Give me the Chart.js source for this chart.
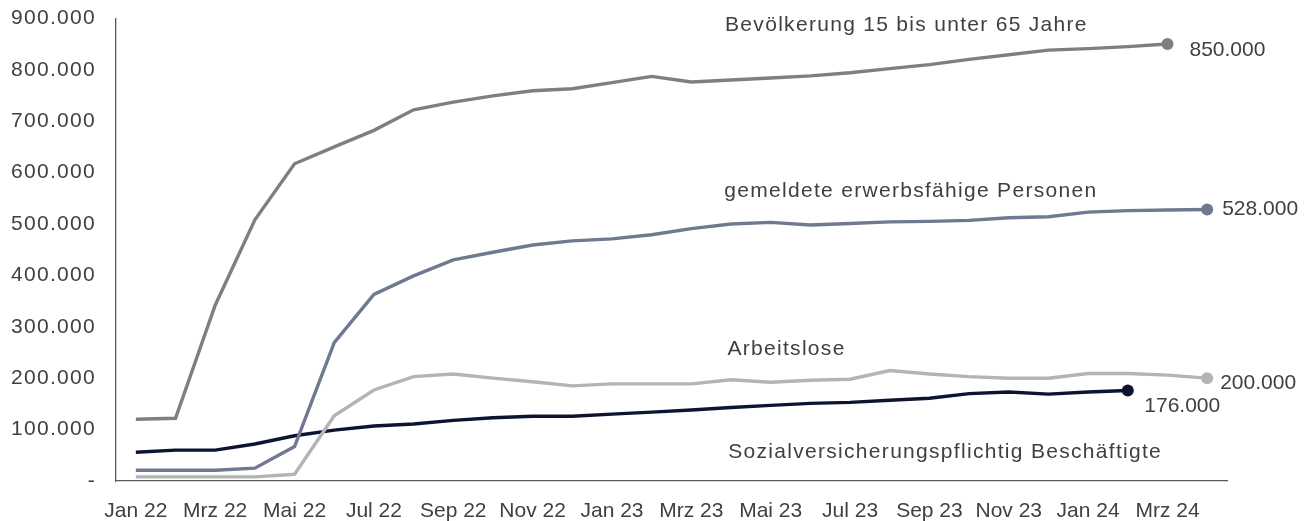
<!DOCTYPE html>
<html>
<head>
<meta charset="utf-8">
<script src="https://cdn.jsdelivr.net/npm/chart.js@4.4.1/dist/chart.umd.min.js"></script>
<style>
  html, body { margin: 0; padding: 0; background: #ffffff; }
  #wrap { width: 1312px; height: 521px; }
</style>
</head>
<body>
<div id="wrap"><canvas id="c" width="1312" height="521"></canvas></div>
<script>
// ---- Data ----
const months = ['Jan 22','Feb 22','Mrz 22','Apr 22','Mai 22','Jun 22','Jul 22','Aug 22','Sep 22','Okt 22','Nov 22','Dez 22',
                'Jan 23','Feb 23','Mrz 23','Apr 23','Mai 23','Jun 23','Jul 23','Aug 23','Sep 23','Okt 23','Nov 23','Dez 23',
                'Jan 24','Feb 24','Mrz 24','Apr 24'];

const seriesNames = ['Bevölkerung 15 bis unter 65 Jahre', 'gemeldete erwerbsfähige Personen', 'Arbeitslose', 'Sozialversicherungspflichtig Beschäftigte'];

const bevoelkerung = [120000,122000,342000,508000,617000,650000,682000,722000,737000,749000,759000,763000,
                      775000,787000,776000,780000,784000,788000,794000,802000,810000,820000,829000,838000,
                      841000,845000,850000];

const gemeldete = [21000,21000,21000,25000,67000,269000,363000,399000,430000,445000,459000,467000,
                   471000,479000,491000,500000,503000,498000,501000,504000,505000,507000,512000,514000,
                   523000,526000,527000,528000];

const arbeitslose = [8000,8000,8000,8000,13000,127000,177000,203000,208000,200000,193000,185000,
                     189000,189000,189000,197000,192000,196000,198000,215000,208000,203000,200000,200000,
                     209000,209000,206000,200000];

const beschaeftigte = [56000,60000,60000,72000,88000,99000,107000,111000,118000,123000,126000,126000,
                       130000,134000,138000,143000,147000,151000,153000,157000,161000,170000,173000,169000,
                       173000,176000];

const yTicks = [0,100000,200000,300000,400000,500000,600000,700000,800000,900000];

// ---- Helpers ----
function fmt(v) {
  if (v === 0) return '-';
  return String(Math.round(v)).replace(/\B(?=(\d{3})+(?!\d))/g, '.');
}
const FONT = "'Liberation Sans', Arial, sans-serif";
const TEXT = '#404040';
const colors = ['#7f7f7f', '#6f7990', '#b4b4b4', '#0c1432'];
const seriesData = [bevoelkerung, gemeldete, arbeitslose, beschaeftigte];

function lastOnly(arr, r) { return arr.map((_, i) => i === arr.length - 1 ? r : 0); }

const datasets = seriesData.map((d, k) => ({
  label: seriesNames[k],
  data: d,
  borderColor: colors[k],
  backgroundColor: colors[k],
  borderWidth: 3.4,
  tension: 0,
  pointRadius: lastOnly(d, 6),
  pointHoverRadius: lastOnly(d, 6),
  pointBorderWidth: 0,
  pointBackgroundColor: colors[k],
  fill: false
}));

// annotation anchors in data space (category index, value) and value-label offsets
const nameAnchors = [
  { idx: 14.85, val: 875000 },
  { idx: 14.83, val: 553000 },
  { idx: 14.91, val: 246000 },
  { idx: 14.93, val: 44000 }
];
const valueOffsets = [ {dx: 22, dy: 12}, {dx: 15, dy: 5.5}, {dx: 13, dy: 11}, {dx: 16.5, dy: 21} ];

const textPlugin = {
  id: 'texts',
  beforeDraw(chart) { chart.ctx.letterSpacing = '1.3px'; },
  beforeDatasetsDraw(chart) { chart.ctx.letterSpacing = '0px'; },
  afterDraw(chart) {
    const ctx = chart.ctx;
    const xs = chart.scales.x, ys = chart.scales.y;
    const xAt = (f) => {
      const i0 = Math.floor(f), t = f - i0;
      const a = xs.getPixelForValue(i0), b = xs.getPixelForValue(i0 + 1);
      return a + (b - a) * t;
    };
    ctx.save();
    ctx.fillStyle = TEXT;
    ctx.textBaseline = 'alphabetic';
    ctx.textAlign = 'left';
    ctx.font = '21px ' + FONT;
    ctx.letterSpacing = '1.3px';
    nameAnchors.forEach((a, k) => {
      ctx.fillText(seriesNames[k], xAt(a.idx), ys.getPixelForValue(a.val));
    });
    ctx.letterSpacing = '0px';
    seriesData.forEach((d, k) => {
      const i = d.length - 1;
      const px = xs.getPixelForValue(i), py = ys.getPixelForValue(d[i]);
      ctx.fillText(fmt(d[i]), px + valueOffsets[k].dx, py + valueOffsets[k].dy);
    });
    ctx.restore();
  }
};

new Chart(document.getElementById('c'), {
  type: 'line',
  data: { labels: months, datasets: datasets },
  plugins: [textPlugin],
  options: {
    responsive: false,
    animation: false,
    devicePixelRatio: 1,
    layout: { padding: { top: 18.3, right: 85, bottom: 0, left: 0 } },
    plugins: { legend: { display: false }, tooltip: { enabled: false } },
    scales: {
      x: {
        type: 'category',
        offset: true,
        afterFit(scale) { scale.height = 40; },
        grid: { display: false, drawTicks: false },
        border: { display: true, color: '#5a5a5a', width: 1.3 },
        ticks: {
          z: 1,
          autoSkip: false,
          maxRotation: 0,
          minRotation: 0,
          padding: 18,
          color: TEXT,
          font: { family: FONT, size: 21 },
          callback: (v, i) => (i % 2 === 0 ? months[i] : '')
        }
      },
      y: {
        min: 0,
        max: 900000,
        afterFit(scale) { scale.width = 116; scale.paddingTop = 0; scale.paddingBottom = 0; },
        afterBuildTicks(scale) { scale.ticks = yTicks.map(v => ({ value: v })); },
        grid: { display: false, drawTicks: false },
        border: { display: true, color: '#5a5a5a', width: 1.3 },
        ticks: {
          padding: 20,
          color: TEXT,
          font: { family: FONT, size: 21 },
          callback: (v) => fmt(v)
        }
      }
    }
  }
});
</script>
</body>
</html>
